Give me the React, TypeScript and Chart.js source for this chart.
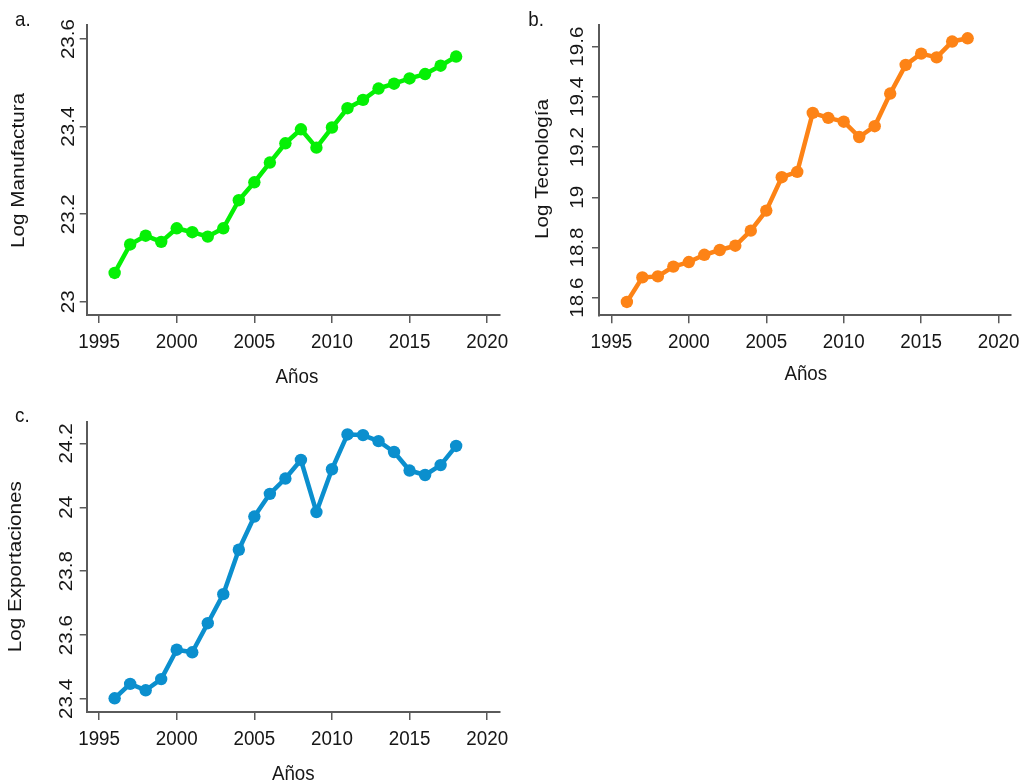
import React, { useEffect, useRef } from "react";
import { Chart, registerables } from "chart.js";

Chart.register(...registerables);

// ---------- data ----------
const YEARS = [
  1996, 1997, 1998, 1999, 2000, 2001, 2002, 2003, 2004, 2005, 2006, 2007,
  2008, 2009, 2010, 2011, 2012, 2013, 2014, 2015, 2016, 2017, 2018,
];

const MANUFACTURA = [
  23.066, 23.131, 23.151, 23.137, 23.168, 23.159, 23.149, 23.168, 23.232,
  23.273, 23.318, 23.362, 23.394, 23.352, 23.398, 23.442, 23.461, 23.487,
  23.498, 23.51, 23.52, 23.539, 23.56,
];

const TECNOLOGIA = [
  18.583, 18.681, 18.685, 18.724, 18.742, 18.771, 18.79, 18.807, 18.867,
  18.947, 19.08, 19.101, 19.336, 19.316, 19.301, 19.24, 19.283, 19.413,
  19.527, 19.572, 19.557, 19.62, 19.633,
];

const EXPORTACIONES = [
  23.402, 23.447, 23.427, 23.462, 23.554, 23.546, 23.637, 23.728, 23.867,
  23.971, 24.042, 24.09, 24.148, 23.985, 24.119, 24.228, 24.226, 24.207,
  24.173, 24.115, 24.101, 24.132, 24.192,
];

const X_TICKS = [1995, 2000, 2005, 2010, 2015, 2020];
const Y_TICKS_A = [23, 23.2, 23.4, 23.6];
const Y_LABELS_A = ["23", "23.2", "23.4", "23.6"];
const Y_TICKS_B = [18.6, 18.8, 19, 19.2, 19.4, 19.6];
const Y_LABELS_B = ["18.6", "18.8", "19", "19.2", "19.4", "19.6"];
const Y_TICKS_C = [23.4, 23.6, 23.8, 24, 24.2];
const Y_LABELS_C = ["23.4", "23.6", "23.8", "24", "24.2"];

// ---------- style ----------
const FONT_FAMILY = '"Liberation Sans", Arial, Helvetica, sans-serif';
const FONT_SIZE = 18.8;
const STRETCH = 1.1;
const TEXT = "#161616";
const AXIS = "#5a5a5a";

function drawText(
  ctx: CanvasRenderingContext2D,
  text: string,
  x: number,
  y: number,
  rotated: boolean,
  align: CanvasTextAlign
) {
  ctx.save();
  ctx.translate(x, y);
  ctx.scale(1, STRETCH);
  if (rotated) ctx.rotate(-Math.PI / 2);
  ctx.textAlign = align;
  ctx.textBaseline = "alphabetic";
  ctx.fillText(text, 0, 0);
  ctx.restore();
}

const labelsPlugin = {
  id: "panelLabels",
  afterDraw(chart: any, _args: any, opts: any) {
    const ctx: CanvasRenderingContext2D = chart.ctx;
    const xs = chart.scales.x;
    const ys = chart.scales.y;
    ctx.save();
    ctx.fillStyle = TEXT;
    ctx.font = `${FONT_SIZE}px ${FONT_FAMILY}`;
    xs.ticks.forEach((t: any) => {
      drawText(ctx, String(t.value), xs.getPixelForValue(t.value), opts.xTickBase, false, "center");
    });
    ys.ticks.forEach((t: any, i: number) => {
      drawText(ctx, opts.yLabels[i], opts.yTickBase, ys.getPixelForValue(t.value), true, "center");
    });
    drawText(ctx, opts.xTitle, opts.xTitleX, opts.xTitleBase, false, "center");
    drawText(ctx, opts.yTitle, opts.yTitleBase, opts.yTitleY, true, "center");
    drawText(ctx, opts.tag, opts.tagX, opts.tagBase, false, "left");
    ctx.restore();
  },
};

type PanelProps = {
  left: number;
  top: number;
  width: number;
  height: number;
  values: number[];
  color: string;
  yMin: number;
  yMax: number;
  yTicks: number[];
  yLabels: string[];
  plot: { l: number; r: number; t: number; b: number };
  labels: any;
};

const X_MIN = 1994.2;
const X_MAX = 2020.78;
const AXIS_BOX = 12;

function Panel(p: PanelProps) {
  const ref = useRef<HTMLCanvasElement>(null);
  useEffect(() => {
    if (!ref.current) return;
    const chart = new Chart(ref.current, {
      type: "line",
      data: {
        datasets: [
          {
            data: YEARS.map((yr, i) => ({ x: yr, y: p.values[i] })),
            borderColor: p.color,
            backgroundColor: p.color,
            pointBackgroundColor: p.color,
            pointBorderColor: p.color,
            borderWidth: 4.5,
            pointRadius: 6.2,
            pointBorderWidth: 0,
            borderJoinStyle: "round",
            borderCapStyle: "round",
            tension: 0,
            clip: false,
          } as any,
        ],
      },
      options: {
        animation: false,
        responsive: false,
        maintainAspectRatio: false,
        devicePixelRatio: 1,
        layout: {
          padding: {
            left: p.plot.l - AXIS_BOX,
            top: p.plot.t,
            right: p.width - p.plot.r,
            bottom: p.height - p.plot.b - AXIS_BOX,
          },
        },
        plugins: {
          legend: { display: false },
          tooltip: { enabled: false },
          panelLabels: { ...p.labels, yLabels: p.yLabels },
        } as any,
        scales: {
          x: {
            type: "linear",
            min: X_MIN,
            max: X_MAX,
            afterBuildTicks: (s: any) => {
              s.ticks = X_TICKS.map((v) => ({ value: v }));
            },
            afterFit: (s: any) => {
              s.height = AXIS_BOX;
            },
            ticks: { display: false },
            grid: {
              drawOnChartArea: false,
              drawTicks: true,
              tickLength: 8,
              color: AXIS,
              lineWidth: 1.5,
            },
            border: { display: true, color: AXIS, width: 2 },
          },
          y: {
            type: "linear",
            min: p.yMin,
            max: p.yMax,
            afterBuildTicks: (s: any) => {
              s.ticks = p.yTicks.map((v) => ({ value: v }));
            },
            afterFit: (s: any) => {
              s.width = AXIS_BOX;
            },
            ticks: { display: false },
            grid: {
              drawOnChartArea: false,
              drawTicks: true,
              tickLength: 7,
              color: AXIS,
              lineWidth: 1.5,
            },
            border: { display: true, color: AXIS, width: 2 },
          },
        },
      } as any,
      plugins: [labelsPlugin],
    });
    return () => chart.destroy();
  }, []);
  return (
    <canvas
      ref={ref}
      width={p.width}
      height={p.height}
      style={{
        position: "absolute",
        left: p.left,
        top: p.top,
        width: p.width,
        height: p.height,
      }}
    />
  );
}

export default function App() {
  return (
    <div
      style={{
        position: "fixed",
        left: 0,
        top: 0,
        width: 1021,
        height: 782,
        background: "#ffffff",
        overflow: "hidden",
      }}
    >
      <Panel
        left={0}
        top={0}
        width={510}
        height={390}
        values={MANUFACTURA}
        color="#05f005"
        yMin={22.97}
        yMax={23.632}
        yTicks={Y_TICKS_A}
        yLabels={Y_LABELS_A}
        plot={{ l: 86.7, r: 499.3, t: 25, b: 315 }}
        labels={{
          xTickBase: 348,
          yTickBase: 73.5,
          xTitle: "Años",
          xTitleX: 297,
          xTitleBase: 383,
          yTitle: "Log Manufactura",
          yTitleBase: 24.4,
          yTitleY: 170.5,
          tag: "a.",
          tagX: 15,
          tagBase: 26,
        }}
      />
      <Panel
        left={510}
        top={0}
        width={511}
        height={390}
        values={TECNOLOGIA}
        color="#fd8316"
        yMin={18.53}
        yMax={19.686}
        yTicks={Y_TICKS_B}
        yLabels={Y_LABELS_B}
        plot={{ l: 89, r: 500.7, t: 25, b: 315.3 }}
        labels={{
          xTickBase: 348,
          yTickBase: 73,
          xTitle: "Años",
          xTitleX: 295.8,
          xTitleBase: 380,
          yTitle: "Log Tecnología",
          yTitleBase: 37.8,
          yTitleY: 169,
          tag: "b.",
          tagX: 18.3,
          tagBase: 26,
        }}
      />
      <Panel
        left={0}
        top={390}
        width={510}
        height={392}
        values={EXPORTACIONES}
        color="#0b8fce"
        yMin={23.359}
        yMax={24.266}
        yTicks={Y_TICKS_C}
        yLabels={Y_LABELS_C}
        plot={{ l: 86.7, r: 499.3, t: 32.3, b: 322 }}
        labels={{
          xTickBase: 355,
          yTickBase: 72,
          xTitle: "Años",
          xTitleX: 293.3,
          xTitleBase: 390,
          yTitle: "Log Exportaciones",
          yTitleBase: 21.1,
          yTitleY: 176.7,
          tag: "c.",
          tagX: 15,
          tagBase: 32,
        }}
      />
    </div>
  );
}
